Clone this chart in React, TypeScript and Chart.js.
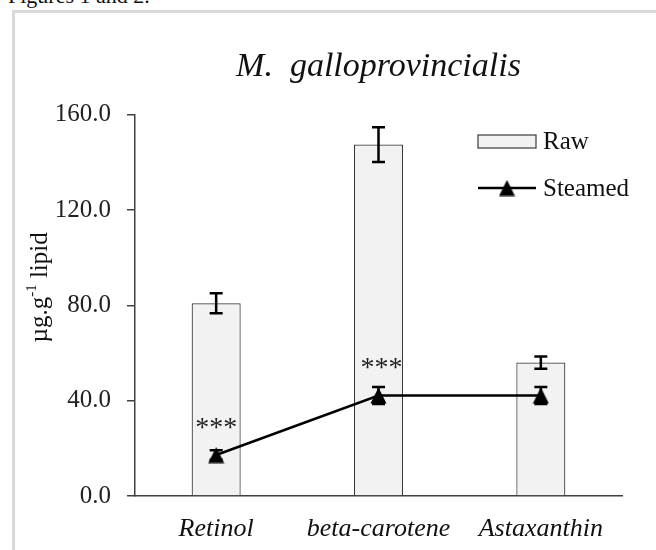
import React, { useEffect, useRef } from "react";
import { Chart, registerables } from "chart.js";

Chart.register(...registerables);

// ---------- data ----------
const categories = ["Retinol", "beta-carotene", "Astaxanthin"];
const seriesNames = ["Raw", "Steamed"];
const rawValues = [80.9, 147.5, 56.0];
const rawErrors = [4.2, 7.3, 2.6];
const steamedValues = [17.2, 42.2, 42.2];
const steamedErrors = [2.0, 3.6, 3.6];
const significance = ["***", "***", ""];
const yTicks = [0, 40, 80, 120, 160];
const chartTitle = "M.  galloprovincialis";
const yTitleMain = "µg.g";
const yTitleSup = "-1";
const yTitleRest = " lipid";
const headerText = "Figures 1 and 2.";

const FONT = "'Liberation Serif', 'Times New Roman', serif";

function makeTriangle(size: number, color: string): HTMLCanvasElement {
  const c = document.createElement("canvas");
  c.width = size;
  c.height = size;
  const g = c.getContext("2d")!;
  g.fillStyle = color;
  g.beginPath();
  g.moveTo(size / 2, 0.5);
  g.lineTo(size - 0.5, size - 0.5);
  g.lineTo(0.5, size - 0.5);
  g.closePath();
  g.fill();
  return c;
}

const errorBarPlugin = {
  id: "errorBars",
  afterDatasetDraw(chart: any, args: any) {
    const ds: any = chart.data.datasets[args.index];
    const errs: number[] | undefined = ds.errors;
    if (!errs) return;
    const ctx = chart.ctx;
    const y = chart.scales.y;
    ctx.save();
    ctx.strokeStyle = "#000";
    ctx.lineWidth = 2.5;
    args.meta.data.forEach((el: any, i: number) => {
      const v = ds.data[i];
      const e = errs[i];
      const x = el.x;
      const yt = y.getPixelForValue(v + e);
      const yb = y.getPixelForValue(v - e);
      const cap = 6.5;
      ctx.beginPath();
      ctx.moveTo(x, yt);
      ctx.lineTo(x, yb);
      ctx.moveTo(x - cap, yt);
      ctx.lineTo(x + cap, yt);
      ctx.moveTo(x - cap, yb);
      ctx.lineTo(x + cap, yb);
      ctx.stroke();
    });
    ctx.restore();
  },
};

const significancePlugin = {
  id: "significance",
  afterDatasetsDraw(chart: any) {
    const idx = chart.data.datasets.findIndex((d: any) => d.label === seriesNames[1]);
    const meta = chart.getDatasetMeta(idx);
    const ctx = chart.ctx;
    ctx.save();
    ctx.fillStyle = "#222";
    ctx.font = `28px ${FONT}`;
    ctx.textAlign = "center";
    ctx.textBaseline = "alphabetic";
    meta.data.forEach((el: any, i: number) => {
      const s = significance[i];
      if (!s) return;
      ctx.fillText(s, el.x + (i === 1 ? 3 : 0), el.y - 19);
    });
    ctx.restore();
  },
};

const legendPlugin = {
  id: "customLegend",
  afterDraw(chart: any) {
    const ctx = chart.ctx;
    const bar: any = chart.data.datasets.find((d: any) => d.label === seriesNames[0]);
    const line: any = chart.data.datasets.find((d: any) => d.label === seriesNames[1]);
    const x0 = 478;
    const sw = 58;
    const y1 = 141.5;
    const y2 = 188;
    ctx.save();
    ctx.fillStyle = bar.backgroundColor;
    ctx.strokeStyle = bar.borderColor;
    ctx.lineWidth = 1.2;
    ctx.fillRect(x0, y1 - 6.5, sw, 13);
    ctx.strokeRect(x0, y1 - 6.5, sw, 13);
    ctx.strokeStyle = line.borderColor;
    ctx.lineWidth = 2.5;
    ctx.beginPath();
    ctx.moveTo(x0, y2);
    ctx.lineTo(x0 + sw, y2);
    ctx.stroke();
    const img: HTMLCanvasElement = line.pointStyle;
    ctx.drawImage(img, x0 + sw / 2 - img.width / 2, y2 - img.height / 2);
    ctx.fillStyle = "#111";
    ctx.font = `25px ${FONT}`;
    ctx.textAlign = "left";
    ctx.textBaseline = "middle";
    ctx.fillText(seriesNames[0], x0 + sw + 7, y1 + 1);
    ctx.fillText(seriesNames[1], x0 + sw + 7, y2 + 1);
    ctx.restore();
  },
};

const yTitlePlugin = {
  id: "yTitle",
  afterDraw(chart: any) {
    const ctx = chart.ctx;
    const area = chart.chartArea;
    const cx = 40;
    const cy = (area.top + area.bottom) / 2 - 18;
    ctx.save();
    ctx.translate(cx, cy);
    ctx.rotate(-Math.PI / 2);
    ctx.fillStyle = "#111";
    ctx.textBaseline = "middle";
    ctx.textAlign = "left";
    const big = `25px ${FONT}`;
    const small = `15px ${FONT}`;
    ctx.font = big;
    const w1 = ctx.measureText(yTitleMain).width;
    const w3 = ctx.measureText(yTitleRest).width;
    ctx.font = small;
    const w2 = ctx.measureText(yTitleSup).width;
    const total = w1 + w2 + w3;
    let x = -total / 2;
    ctx.font = big;
    ctx.fillText(yTitleMain, x, 0);
    x += w1;
    ctx.font = small;
    ctx.fillText(yTitleSup, x, -8);
    x += w2;
    ctx.font = big;
    ctx.fillText(yTitleRest, x, 0);
    ctx.restore();
  },
};

export default function App() {
  const canvasRef = useRef<HTMLCanvasElement | null>(null);

  useEffect(() => {
    const canvas = canvasRef.current;
    if (!canvas) return;
    const tri = makeTriangle(17, "#000");
    const chart = new Chart(canvas, {
      type: "bar",
      data: {
        labels: categories,
        datasets: [
          {
            type: "line",
            label: seriesNames[1],
            data: steamedValues,
            errors: steamedErrors,
            borderColor: "#000",
            backgroundColor: "#000",
            borderWidth: 2.5,
            pointStyle: tri,
            pointRadius: 9,
            pointBackgroundColor: "#000",
            pointBorderColor: "#000",
            tension: 0,
            order: 0,
          } as any,
          {
            type: "bar",
            label: seriesNames[0],
            data: rawValues,
            errors: rawErrors,
            backgroundColor: "#f2f2f2",
            borderColor: "#3a3a3a",
            borderWidth: 1.2,
            barPercentage: 0.302,
            categoryPercentage: 1,
            order: 1,
          } as any,
        ],
      },
      options: {
        responsive: false,
        animation: false,
        devicePixelRatio: 1,
        layout: { padding: { left: 0, right: 34, top: 0, bottom: 0 } },
        plugins: {
          legend: { display: false },
          tooltip: { enabled: false },
          title: {
            display: true,
            text: chartTitle,
            fullSize: false,
            color: "#111",
            font: { family: FONT, size: 34, style: "italic", weight: "normal", lineHeight: 1.2 },
            padding: { top: 47, bottom: 27 },
          },
        },
        scales: {
          x: {
            grid: { display: false },
            border: { display: true, color: "#404040", width: 1.5 },
            ticks: {
              color: "#111",
              padding: 10,
              font: { family: FONT, size: 26, style: "italic" },
              maxRotation: 0,
            },
            afterFit: (s: any) => {
              s.height = 54;
            },
          },
          y: {
            min: 0,
            max: 160,
            afterBuildTicks: (s: any) => {
              s.ticks = yTicks.map((v) => ({ value: v }));
            },
            grid: {
              display: true,
              drawOnChartArea: false,
              drawTicks: true,
              tickLength: 8,
              color: "#404040",
              lineWidth: 1.5,
            },
            border: { display: true, color: "#404040", width: 1.5 },
            ticks: {
              color: "#222",
              padding: 16,
              font: { family: FONT, size: 25 },
              callback: (v: any) => Number(v).toFixed(1),
            },
            afterFit: (s: any) => {
              s.width = 135;
            },
          },
        },
      } as any,
      plugins: [errorBarPlugin, significancePlugin, legendPlugin, yTitlePlugin],
    });
    return () => chart.destroy();
  }, []);

  return (
    <div style={{ position: "fixed", left: 0, top: 0, width: 656, height: 550, background: "#fff", overflow: "hidden" }}>
      <div
        style={{
          position: "absolute",
          left: 8,
          top: -15,
          fontFamily: FONT,
          fontSize: 22,
          lineHeight: "22px",
          whiteSpace: "nowrap",
          color: "#111",
        }}
      >
        {headerText}
      </div>
      <div
        style={{
          position: "absolute",
          left: 12,
          top: 10,
          width: 660,
          height: 560,
          borderLeft: "3px solid #d9d9d9",
          borderTop: "3px solid #d9d9d9",
        }}
      />
      <canvas
        ref={canvasRef}
        width={656}
        height={550}
        style={{ position: "absolute", left: 0, top: 0, width: 656, height: 550, display: "block" }}
      />
    </div>
  );
}
